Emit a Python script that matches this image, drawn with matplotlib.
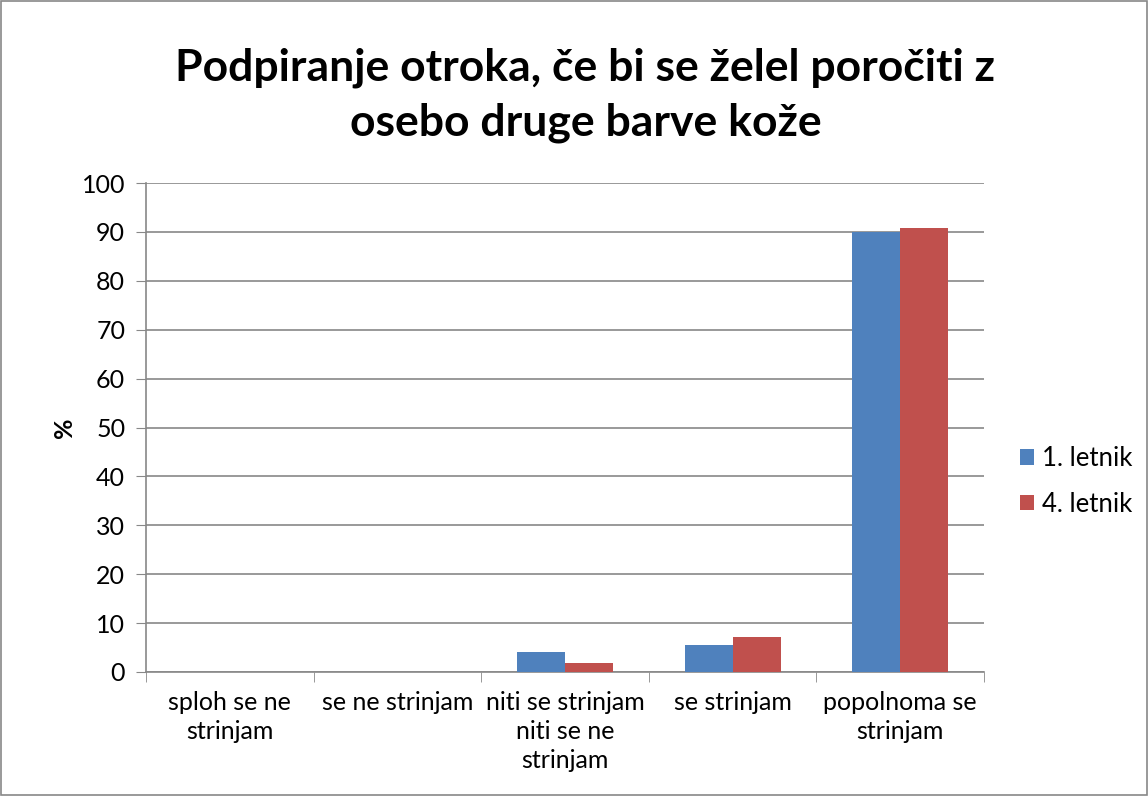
import numpy as np
import matplotlib.pyplot as plt

plt.rcParams['font.family'] = ['Lato', 'DejaVu Sans']

categories = ["sploh se ne\nstrinjam", "se ne strinjam", "niti se strinjam\nniti se ne\nstrinjam",
              "se strinjam", "popolnoma se\nstrinjam"]
letnik1 = [0, 0, 4.1, 5.5, 90.0]
letnik4 = [0, 0, 1.8, 7.2, 90.9]
yticks = list(range(0, 101, 10))

fig = plt.figure(figsize=(11.48, 7.96), dpi=100)
fig.patches.append(plt.Rectangle((0.001, 0.001), 0.998, 0.998, transform=fig.transFigure,
                                 fill=False, edgecolor="#888888", linewidth=1.2))
ax = fig.add_axes([0.1272, 0.1558, 0.7300, 0.6142])

x = np.arange(len(categories))
w = 0.286
ax.bar(x - w / 2, letnik1, width=w, color="#4f81bd", label="1. letnik", zorder=3)
ax.bar(x + w / 2, letnik4, width=w, color="#c0504d", label="4. letnik", zorder=3)

ax.set_xlim(-0.5, len(categories) - 0.5)
ax.set_ylim(0, 100)
ax.set_yticks(yticks)
ax.tick_params(axis="y", labelsize=18, length=7, color="#888888", pad=8)
ax.set_xticks(x)
ax.set_xticklabels(categories, fontsize=18, linespacing=1.3)
ax.tick_params(axis="x", length=0, pad=14)
ax.set_xticks(np.arange(-0.5, len(categories)), minor=True)
ax.tick_params(axis="x", which="minor", length=7, color="#888888")
ax.grid(axis="y", color="#888888", linewidth=1.2, zorder=0)
for s in ["top", "right"]:
    ax.spines[s].set_visible(False)
for s in ["left", "bottom"]:
    ax.spines[s].set_color("#888888")
    ax.spines[s].set_linewidth(1.2)
ax.set_ylabel("%", fontsize=18, fontweight="bold", labelpad=4)

fig.suptitle("Podpiranje otroka, če bi se želel poročiti z\nosebo druge barve kože",
             fontsize=32, fontweight="bold", x=0.51, y=0.94, linespacing=1.42)
ax.legend(loc="center left", bbox_to_anchor=(1.015, 0.39), frameon=False, fontsize=18.5,
          handlelength=0.55, handleheight=0.55, labelspacing=0.8, handletextpad=0.3)

fig.savefig("out.png", dpi=100)
